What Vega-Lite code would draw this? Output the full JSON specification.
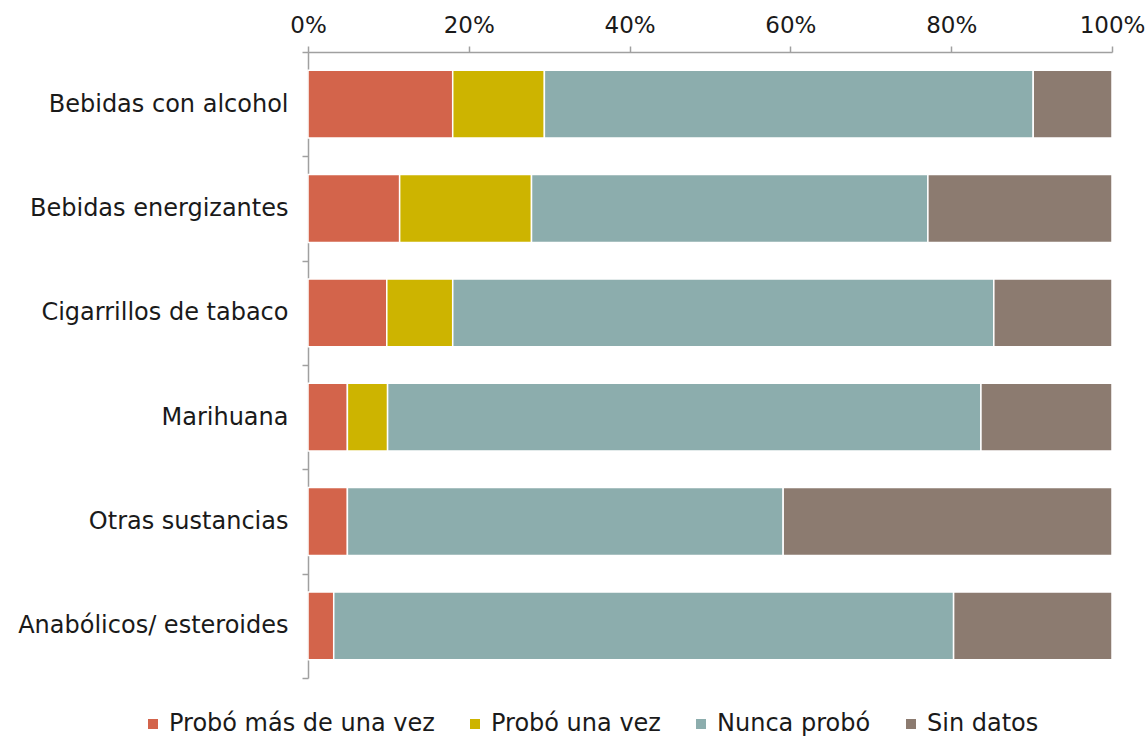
{
  "$schema": "https://vega.github.io/schema/vega-lite/v6.json",
  "width": 804,
  "height": 626,
  "autosize": {"type": "none"},
  "padding": {"left": 308, "top": 52, "right": 35, "bottom": 62},
  "background": "white",
  "config": {
    "view": {"stroke": null},
    "font": "DejaVu Sans",
    "axis": {"domainColor": "#a0a0a0", "tickColor": "#a0a0a0", "labelColor": "#1a1a1a", "labelFont": "DejaVu Sans", "grid": false, "domainWidth": 1.5, "tickWidth": 1.5}
  },
  "data": {
    "values": [
      {"sustancia": "Bebidas con alcohol", "respuesta": "Probó más de una vez", "orden": 1, "valor": 18.0},
      {"sustancia": "Bebidas con alcohol", "respuesta": "Probó una vez", "orden": 2, "valor": 11.4},
      {"sustancia": "Bebidas con alcohol", "respuesta": "Nunca probó", "orden": 3, "valor": 60.8},
      {"sustancia": "Bebidas con alcohol", "respuesta": "Sin datos", "orden": 4, "valor": 9.8},
      {"sustancia": "Bebidas energizantes", "respuesta": "Probó más de una vez", "orden": 1, "valor": 11.4},
      {"sustancia": "Bebidas energizantes", "respuesta": "Probó una vez", "orden": 2, "valor": 16.4},
      {"sustancia": "Bebidas energizantes", "respuesta": "Nunca probó", "orden": 3, "valor": 49.3},
      {"sustancia": "Bebidas energizantes", "respuesta": "Sin datos", "orden": 4, "valor": 22.9},
      {"sustancia": "Cigarrillos de tabaco", "respuesta": "Probó más de una vez", "orden": 1, "valor": 9.8},
      {"sustancia": "Cigarrillos de tabaco", "respuesta": "Probó una vez", "orden": 2, "valor": 8.2},
      {"sustancia": "Cigarrillos de tabaco", "respuesta": "Nunca probó", "orden": 3, "valor": 67.3},
      {"sustancia": "Cigarrillos de tabaco", "respuesta": "Sin datos", "orden": 4, "valor": 14.7},
      {"sustancia": "Marihuana", "respuesta": "Probó más de una vez", "orden": 1, "valor": 4.9},
      {"sustancia": "Marihuana", "respuesta": "Probó una vez", "orden": 2, "valor": 5.0},
      {"sustancia": "Marihuana", "respuesta": "Nunca probó", "orden": 3, "valor": 73.8},
      {"sustancia": "Marihuana", "respuesta": "Sin datos", "orden": 4, "valor": 16.3},
      {"sustancia": "Otras sustancias", "respuesta": "Probó más de una vez", "orden": 1, "valor": 4.9},
      {"sustancia": "Otras sustancias", "respuesta": "Nunca probó", "orden": 3, "valor": 54.2},
      {"sustancia": "Otras sustancias", "respuesta": "Sin datos", "orden": 4, "valor": 40.9},
      {"sustancia": "Anabólicos/ esteroides", "respuesta": "Probó más de una vez", "orden": 1, "valor": 3.2},
      {"sustancia": "Anabólicos/ esteroides", "respuesta": "Nunca probó", "orden": 3, "valor": 77.1},
      {"sustancia": "Anabólicos/ esteroides", "respuesta": "Sin datos", "orden": 4, "valor": 19.7}
    ]
  },
  "mark": {"type": "bar", "stroke": "white", "strokeWidth": 1.5, "height": {"band": 0.65}},
  "encoding": {
    "y": {
      "field": "sustancia",
      "type": "nominal",
      "sort": ["Bebidas con alcohol", "Bebidas energizantes", "Cigarrillos de tabaco", "Marihuana", "Otras sustancias", "Anabólicos/ esteroides"],
      "scale": {"paddingInner": 0, "paddingOuter": 0},
      "axis": {"title": null, "tickBand": "extent", "tickSize": 6, "labelPadding": 14, "labelLimit": 400, "labelFontSize": 24}
    },
    "x": {
      "field": "valor",
      "type": "quantitative",
      "stack": "normalize",
      "scale": {"domain": [0, 1], "nice": false},
      "axis": {"orient": "top", "title": null, "format": ".0%", "values": [0, 0.2, 0.4, 0.6, 0.8, 1], "tickSize": 6, "labelPadding": 9, "labelFlush": false, "labelFontSize": 23}
    },
    "color": {
      "field": "respuesta",
      "type": "nominal",
      "scale": {
        "domain": ["Probó más de una vez", "Probó una vez", "Nunca probó", "Sin datos"],
        "range": ["#d3644b", "#cdb400", "#8cadad", "#8c7b70"]
      },
      "legend": {
        "title": null,
        "orient": "none",
        "direction": "horizontal",
        "legendX": -167,
        "legendY": 660,
        "symbolType": "square",
        "symbolSize": 100,
        "symbolStrokeWidth": 0,
        "labelFontSize": 24,
        "labelFont": "DejaVu Sans",
        "labelColor": "#1a1a1a",
        "labelOffset": 4,
        "columnPadding": 28,
        "labelLimit": 400
      }
    },
    "order": {"field": "orden", "type": "quantitative"}
  }
}
